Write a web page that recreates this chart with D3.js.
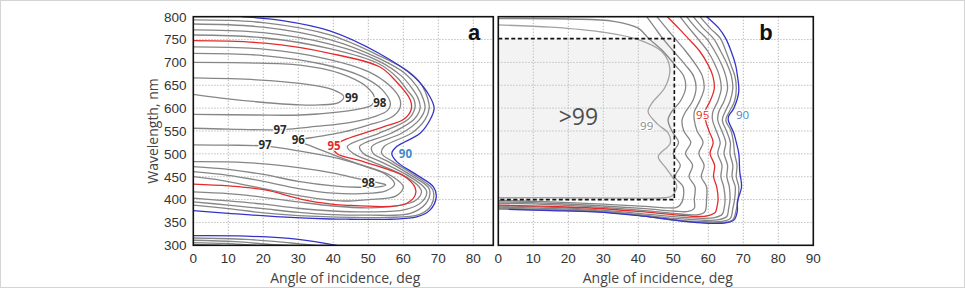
<!DOCTYPE html>
<html>
<head>
<meta charset="utf-8">
<title>Contours</title>
<script src="https://d3js.org/d3.v7.min.js"></script>
<style>
  body { margin: 0; background: #fff; }
  svg { display: block; }
  .grid line { stroke: #9a9a9a; stroke-width: 0.8; stroke-dasharray: 1.2 1.8; }
  .frame { fill: none; stroke: #111; stroke-width: 1.6; }
  .tick-label { font-family: "Liberation Sans", Arial, sans-serif; font-size: 13.5px; fill: #333; }
  .axis-title { font-family: "Open Sans", sans-serif; font-size: 14px; fill: #444; }
  .contour { fill: none; stroke-width: 1.3; }
  .clabel { font-family: "Open Sans", sans-serif; font-size: 11.5px; paint-order: stroke; stroke: #fff; stroke-width: 2.5px; }
  .panel-letter { font-family: "Liberation Sans", Arial, sans-serif; font-size: 22px; font-weight: bold; fill: #111; }
</style>
</head>
<body>
<svg width="965" height="288"></svg>
<script>
// ticks
const wavelengthTicks = [300, 350, 400, 450, 500, 550, 600, 650, 700, 750, 800];
const angleTicksA = [0, 10, 20, 30, 40, 50, 60, 70, 80];
const angleTicksB = [0, 10, 20, 30, 40, 50, 60, 70, 80, 90];

// panel a contours, [angle, wavelength]
const a90 = [[13.8,800],[25,792],[39,769],[53,720],[63,669],[67.6,625],[68.8,600],[67.6,574],[64.8,545],[58.1,516],[56.7,501],[58.1,483],[63.8,454],[68.6,428],[69.4,406],[67.6,377],[63.8,362],[56.2,357],[45,357],[39,357.5],[25,362],[10,370],[0,376]];
const a90low = [[0,321],[15,320],[30,313],[41,300]];
const a91 = [[0,793],[20,787],[39,760],[53,715],[61.5,680],[65.3,650],[67,620],[67.4,600],[66.2,575],[62.3,545],[54.5,516],[53.8,501],[57,483],[63,454],[67.8,428],[68.6,417],[68,388],[64.5,367],[55,361],[45,361],[30,365],[20,371],[10,380],[0,388]];
const a92 = [[0,784],[20,777],[39,750],[53,709],[60.5,676],[64,646],[65.7,620],[66.2,600],[64.6,575],[59.5,545],[51,516],[51.4,501],[55.7,483],[62,454],[67,428],[67.6,417],[66.5,392],[62,370],[50,366],[40,367],[30,372],[20,380],[10,388],[0,395]];
const a93 = [[0,771],[20,765],[39,740],[53,703],[59.5,670],[62.5,643],[64.3,620],[64.8,600],[63,575],[56.5,545],[47.5,516],[48.6,501],[53.5,483],[61,454],[65.8,428],[66.7,417],[65.3,395],[60.5,378],[50,373],[40,375],[30,381],[20,390],[10,397],[0,403]];
const a94 = [[0,760],[20,754],[39,730],[53,697],[58.5,665],[61,640],[63,620],[63.3,600],[61.3,575],[53,545],[44,516],[45.7,501],[51,483],[59.8,454],[64.5,428],[65.2,417],[63.5,398],[58,386],[50,382],[40,386],[30,395],[20,405],[10,413],[0,417]];
const a95 = [[0,747.5],[20.5,742],[39,720],[53.3,690],[58,658],[62,618],[62.2,596],[60,575],[54.3,559],[48.6,545],[43,530],[40,516],[41,501],[48.6,483],[61,447],[63.6,417],[61,392],[43,388],[32,399],[20.5,421],[10,430],[0,434]];
const a96 = [[0,734],[20,729],[38,708],[50,680],[56,650],[59,620],[59,600],[56.6,580],[50,563],[43,548],[36,538],[30,529],[33,519],[39,501],[46.7,479],[52.4,465],[57,450],[60,428],[58,408],[50,400],[41.9,397],[30.5,408],[18,427],[8,442],[0,450]];
const a97up = [[0,720],[20,715],[37,696],[48,670],[54,640],[56.3,610],[55.5,595],[52,582],[45,569],[35,560],[25,553],[10,554],[0,556]];
const a97low = [[0,519.5],[10,519],[20.5,517],[30.5,506],[41.9,489],[50,470],[55,455],[57.5,434],[55,419],[48,413],[40,414],[30,424],[20,440],[10,453],[0,461]];
const a98up = [[0,700],[15,699],[30.5,694],[41.9,676],[49.5,647],[51.8,622],[51,607],[48.6,600],[41.9,592],[30.5,585],[18,585],[0,586.5]];
const a98low = [[0,483],[15,481],[30,470],[40,458],[47,446],[52,438],[55,432],[53,428],[47,427],[40,430],[30,440],[20,455],[10,466],[0,472]];
const a99 = [[0,666],[18,662],[30.5,654],[40,640],[43,625],[41.5,612],[36,607],[30.5,607],[18,614],[8,622],[0,630]];
const aLowGray1 = [[0,316],[15,313],[28,305],[35,300]];
const aLowGray2 = [[0,311],[12,308],[22,302],[27,300]];
const aLowGray3 = [[0,306],[9,304],[18,300]];
const aLowGray4 = [[0,302],[8,300]];

// panel b contours
const b90 = [[3,378.5],[15,376],[27.6,373],[40,365],[46.7,359],[55,351],[60,348],[65,349],[67.3,355],[68.3,375],[68.3,395],[69.5,428],[69,460],[68.7,501],[68,525],[67.3,545],[65.7,574],[65.8,582],[67.3,600],[68.7,636],[68.3,672],[67.8,694],[66.5,725],[65,752],[63,775],[59.5,800]];
const b91 = [[0,379],[15,377],[27.6,373.5],[40,365.5],[48,357],[58,350],[64.5,350],[67,356],[68,378],[68.5,400],[68.7,428],[68,450],[68.2,475],[67.5,501],[67.2,525],[66.5,550],[65,574],[66,592],[67.5,615],[68,643],[67.6,670],[66.5,694],[65,725],[63.5,752],[60.5,775],[57.6,800]];
const b92 = [[0,381],[15,378.5],[27.6,374.5],[40,366],[51,355],[58,352],[64,352.5],[66.3,359],[67,380],[67.5,400],[67.7,428],[66.8,450],[67,475],[66.2,501],[66.3,525],[65.2,550],[64,574],[64.8,592],[66.2,615],[67,643],[66.6,670],[65.5,694],[63.5,725],[61.5,752],[58.5,775],[55.7,800]];
const b93 = [[0,383.5],[15,380.5],[27.6,376],[40,367],[51,358.5],[58,355],[63,356],[65.3,363],[65.8,380],[66.2,400],[66,428],[65.3,450],[65.5,475],[64.5,501],[65,525],[63.9,550],[62.7,574],[63,592],[64.5,615],[65.5,643],[65,670],[63.9,694],[61.8,725],[59.5,752],[56.5,775],[53.8,800]];
const b94 = [[0,386],[15,383],[27.6,378],[40,370],[51,362],[58,359],[62,361],[64,368],[64.5,380],[64.8,400],[64.4,428],[63.6,450],[63.9,475],[62.7,501],[63.4,525],[62.3,550],[61.2,574],[61.3,592],[62.7,615],[63.7,643],[63.2,670],[62,694],[59.8,725],[57,752],[54.5,775],[51.9,800]];
const b95 = [[0,388],[15,385],[27.6,381],[40,374],[51.3,366],[57,363],[60,365],[62,372],[62.4,381],[62.8,400],[62.4,428],[61.5,450],[61.8,475],[60.5,501],[61.4,525],[60.2,550],[59.2,574],[59,592],[60.5,615],[61.7,643],[61.3,670],[60,694],[57.5,725],[54.3,752],[51.5,775],[48.3,800]];
const b96 = [[0,392],[15,389],[30,383],[42,376],[50,370],[57,367],[59,373],[59.5,400],[59.5,428],[58,450],[58.8,475],[57.3,501],[58.5,525],[56.8,550],[56,574],[56,592],[57.5,615],[58.8,643],[58.3,670],[56.5,694],[53.5,725],[50.5,752],[48,775],[45.3,800]];
const b97 = [[0,395],[15,392],[30,386],[42,380],[50,375],[54.3,374],[56,381],[56,400],[56.2,428],[54.5,450],[55.5,475],[53.5,501],[55,525],[53,550],[52.5,574],[53.5,592],[55.5,615],[56.5,643],[55.8,670],[53.5,694],[50,725],[47,752],[44.8,775],[42.4,800]];
const b98 = [[0,398],[15,395],[30,390],[42,385],[48,382],[51,383],[52.5,395],[52.8,428],[50.5,450],[52,475],[50,501],[51.5,525],[49.6,550],[48.5,574],[49.5,592],[52,615],[53.5,643],[53,670],[50.5,694],[47,725],[43,752],[40,775],[33,790],[20,795],[0,796]];
const b99 = [[0,404],[20,404],[40,403],[47,404],[49.6,408],[51,428],[50,446],[47.6,472],[45.7,494],[49.1,523],[48.6,545],[45.5,565],[42.8,592],[44,612],[47.6,645],[49,688],[46.7,724],[40,750],[30,766],[15,777],[0,782]];

// region marked >99 in panel b: [angle0, angle1, wl0, wl1]
const b99Box = [0, 50.3, 400, 752];

// contour labels [angle, wavelength, text]
const labelsA = [[45.2,621.5,'99'],[53.3,610.5,'98'],[24.8,552,'97'],[20.5,519,'97'],[30,530,'96'],[40.2,518,'95'],[60.6,499,'90'],[50,436,'98']];
const labelsB = [[42.4,561,'99'],[58.4,585,'95'],[69.8,585,'90']];
const bigLabelB = [22.9, 581, '>99'];

const colors = { blue: '#3434cc', red: '#e52b2b', gray: '#868686', light: '#a3a3a3', label90: '#3f88cc' };

const svg = d3.select('svg');
svg.append('rect').attr('x', 0.5).attr('y', 0.5).attr('width', 964).attr('height', 287)
  .attr('fill', 'none').attr('stroke', '#d4d4d4');

const y = d3.scaleLinear().domain([300, 800]).range([245.3, 16.7]);
const xa = d3.scaleLinear().domain([0, 85.7]).range([193.3, 493.3]);
const xb = d3.scaleLinear().domain([0, 90]).range([498.3, 813.3]);

function panel(id, x, ticks, showY) {
  const g = svg.append('g');
  const [x0, x1] = x.range();
  const [y0, y1] = [y(800), y(300)];

  g.append('clipPath').attr('id', id).append('rect')
    .attr('x', x0).attr('y', y0).attr('width', x1 - x0).attr('height', y1 - y0);

  const grid = g.append('g').attr('class', 'grid');
  grid.selectAll('.v').data(ticks.filter(t => t > 0 && x(t) < x1 - 2)).join('line')
    .attr('x1', d => x(d)).attr('x2', d => x(d)).attr('y1', y0).attr('y2', y1);
  grid.selectAll('.h').data(wavelengthTicks.slice(1, -1)).join('line')
    .attr('x1', x0).attr('x2', x1).attr('y1', d => y(d)).attr('y2', d => y(d));

  g.selectAll('.xt').data(ticks).join('text')
    .attr('class', 'tick-label')
    .attr('x', d => x(d)).attr('y', 263)
    .attr('text-anchor', 'middle')
    .text(d => d);

  if (showY) {
    g.selectAll('.yt').data(wavelengthTicks).join('text')
      .attr('class', 'tick-label')
      .attr('x', 186.5).attr('y', d => y(d) + 4.8)
      .attr('text-anchor', 'end')
      .text(d => d);
  }

  g.append('text').attr('class', 'axis-title')
    .attr('x', (x0 + x1) / 2 + 2).attr('y', 283)
    .attr('text-anchor', 'middle')
    .text('Angle of incidence, deg');

  const body = g.append('g').attr('clip-path', `url(#${id})`);
  return { g, body, frame: () => g.append('rect').attr('class', 'frame')
    .attr('x', x0).attr('y', y0).attr('width', x1 - x0).attr('height', y1 - y0) };
}

function drawLines(body, x, list) {
  const line = d3.line()
    .x(d => x(d[0])).y(d => y(d[1]))
    .curve(d3.curveCatmullRom.alpha(0.5));
  body.selectAll(null).data(list).join('path')
    .attr('class', 'contour')
    .attr('d', d => line(d.pts))
    .attr('stroke', d => d.color);
}

// panel a
const pa = panel('clipA', xa, angleTicksA, true);
drawLines(pa.body, xa, [
  { pts: aLowGray4, color: colors.gray }, { pts: aLowGray3, color: colors.gray },
  { pts: aLowGray2, color: colors.gray }, { pts: aLowGray1, color: colors.gray },
  { pts: a90low, color: colors.blue },
  { pts: a91, color: colors.gray }, { pts: a92, color: colors.gray },
  { pts: a93, color: colors.gray }, { pts: a94, color: colors.gray },
  { pts: a96, color: colors.gray }, { pts: a97up, color: colors.gray },
  { pts: a97low, color: colors.gray }, { pts: a98up, color: colors.gray },
  { pts: a98low, color: colors.gray }, { pts: a99, color: colors.gray },
  { pts: a95, color: colors.red }, { pts: a90, color: colors.blue }
]);
pa.body.selectAll('.la').data(labelsA).join('text')
  .attr('class', 'clabel')
  .attr('x', d => xa(d[0])).attr('y', d => y(d[1]) + 4)
  .attr('text-anchor', 'middle')
  .attr('font-weight', 700)
  .attr('fill', d => d[2] === '95' ? colors.red : d[2] === '90' ? colors.label90 : '#2a2a2a')
  .text(d => d[2]);
pa.frame();
pa.g.append('text').attr('class', 'panel-letter')
  .attr('x', xa(80.2)).attr('y', 40).attr('text-anchor', 'middle').text('a');

// panel b
const pb = panel('clipB', xb, angleTicksB, false);
pb.body.append('rect')
  .attr('x', xb(b99Box[0])).attr('y', y(b99Box[3]))
  .attr('width', xb(b99Box[1]) - xb(b99Box[0]))
  .attr('height', y(b99Box[2]) - y(b99Box[3]))
  .attr('fill', '#f3f3f3');
pb.body.selectAll('.gridb').data(angleTicksB.filter(t => t > 0 && t < 50)).join('line')
  .attr('x1', d => xb(d)).attr('x2', d => xb(d)).attr('y1', y(b99Box[3])).attr('y2', y(b99Box[2]))
  .attr('stroke', '#a8a8a8').attr('stroke-width', 0.8).attr('stroke-dasharray', '1.2 1.8');
pb.body.selectAll('.gridbh').data([450, 500, 550, 600, 650, 700]).join('line')
  .attr('x1', xb(0)).attr('x2', xb(b99Box[1])).attr('y1', d => y(d)).attr('y2', d => y(d))
  .attr('stroke', '#a8a8a8').attr('stroke-width', 0.8).attr('stroke-dasharray', '1.2 1.8');
drawLines(pb.body, xb, [
  { pts: b99, color: colors.light },
  { pts: b98, color: colors.gray }, { pts: b97, color: colors.gray },
  { pts: b96, color: colors.gray }, { pts: b94, color: colors.gray },
  { pts: b93, color: colors.gray }, { pts: b92, color: colors.gray },
  { pts: b91, color: colors.gray },
  { pts: b95, color: colors.red }, { pts: b90, color: colors.blue }
]);
pb.body.append('path')
  .attr('d', `M${xb(b99Box[0])},${y(b99Box[3])}H${xb(b99Box[1])}V${y(b99Box[2])}H${xb(b99Box[0])}`)
  .attr('fill', 'none').attr('stroke', '#111').attr('stroke-width', 1.6).attr('stroke-dasharray', '4 2.5');
pb.body.selectAll('.lb').data(labelsB).join('text')
  .attr('class', 'clabel')
  .attr('x', d => xb(d[0])).attr('y', d => y(d[1]) + 4)
  .attr('text-anchor', 'middle')
  .attr('fill', d => d[2] === '95' ? colors.red : d[2] === '90' ? colors.label90 : '#8a8a8a')
  .text(d => d[2]);
pb.body.append('text')
  .attr('x', xb(bigLabelB[0])).attr('y', y(bigLabelB[1]) + 8)
  .attr('text-anchor', 'middle')
  .style('font-family', '"Open Sans", sans-serif')
  .style('font-size', '23px')
  .style('fill', '#4d4d4d')
  .text(bigLabelB[2]);
pb.frame();
pb.g.append('text').attr('class', 'panel-letter')
  .attr('x', xb(76.5)).attr('y', 40).attr('text-anchor', 'middle').text('b');

// y axis title
svg.append('text').attr('class', 'axis-title')
  .attr('transform', `translate(158, ${y(550)}) rotate(-90)`)
  .attr('text-anchor', 'middle')
  .text('Wavelength, nm');
</script>
</body>
</html>
